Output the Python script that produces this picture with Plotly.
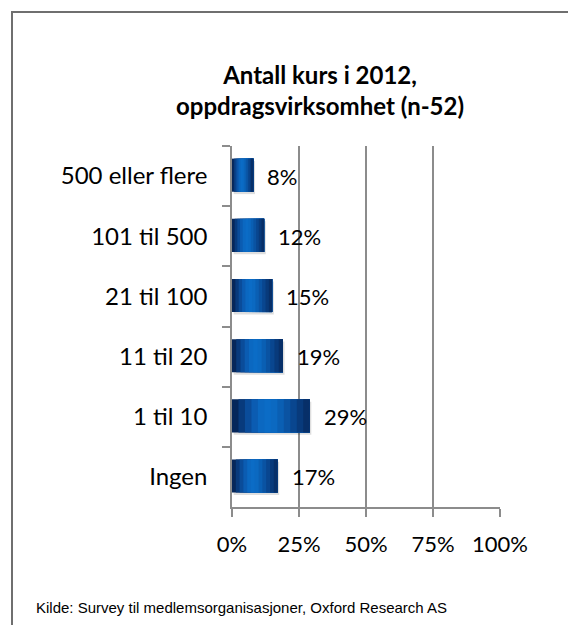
import plotly.graph_objects as go

categories = ["500 eller flere", "101 til 500", "21 til 100", "11 til 20", "1 til 10", "Ingen"]
values = [8, 12, 15, 19, 29, 17]
label_texts = ["8%", "12%", "15%", "19%", "29%", "17%"]
x_tickvals = [0, 25, 50, 75, 100]
x_ticktext = ["0%", "25%", "50%", "75%", "100%"]
title_lines = ["Antall kurs i 2012,", "oppdragsvirksomhet (n-52)"]
source_text = "Kilde: Survey til medlemsorganisasjoner, Oxford Research AS"

OFF = 8  # page body margin
W, H = 576 - OFF, 625 - OFF
L = 232 - OFF
R = W - (500 - OFF)
T = 146 - OFF
B = H - (507 - OFF)
PW, PH = W - L - R, H - T - B

def px(x):
    return (x - OFF - L) / PW

def py(y):
    return (H - B - (y - OFF)) / PH

# gradient shades along each bar (dark -> light -> dark)
shades = ["#06275a", "#083a7c", "#0a4c9a", "#0b5cb2", "#0b68c1", "#0b6cc6",
          "#0b69c1", "#0a5fb3", "#0a53a2", "#09468f", "#083a7b", "#072f68"]
n = len(shades)

fig = go.Figure()
# soft shadow
fig.add_trace(go.Bar(
    y=categories, x=values, orientation="h", base=[0.6] * len(values),
    marker=dict(color="rgba(0,0,0,0.13)", line=dict(width=0)), width=0.55,
    offset=-0.25, hoverinfo="skip", showlegend=False,
))
for i, c in enumerate(shades):
    fig.add_trace(go.Bar(
        y=categories, x=[v * (1 - i / n) for v in values],
        base=[v * i / n for v in values], orientation="h",
        marker=dict(color=c, line=dict(width=0)), width=0.55, offset=-0.29,
        hoverinfo="skip", showlegend=False,
    ))

for cat, v, t in zip(categories, values, label_texts):
    fig.add_annotation(x=v, y=cat, text=t, showarrow=False, xanchor="left",
                       xshift=12, yshift=0,
                       font=dict(family="Lato, Carlito, sans-serif", size=22, color="#000"))

fig.update_layout(
    width=W, height=H, barmode="overlay",
    margin=dict(l=L, r=R, t=T, b=B),
    paper_bgcolor="white", plot_bgcolor="white",
    font=dict(family="Lato, Carlito, sans-serif", size=22, color="#000"),
    xaxis=dict(range=[0, 100], tickvals=x_tickvals, ticktext=x_ticktext,
               showgrid=True, gridcolor="#8c8c8c", gridwidth=1.5,
               showline=True, linecolor="#8c8c8c", linewidth=1.5,
               ticks="outside", ticklen=8, tickcolor="#8c8c8c", tickwidth=1.5,
               ticklabelstandoff=9, zeroline=False, fixedrange=True,
               tickfont=dict(size=22)),
    yaxis=dict(autorange="reversed", showline=True, linecolor="#8c8c8c", linewidth=1.5,
               ticks="outside", ticklen=8, tickcolor="#8c8c8c", tickwidth=1.5,
               tickson="boundaries", ticklabelstandoff=18, showgrid=False,
               tickfont=dict(size=24)),
)

# chart border (only left and top edges fall inside the view)
fig.add_shape(type="rect", xref="paper", yref="paper",
              x0=px(12), x1=px(620), y0=py(680), y1=py(12),
              line=dict(color="#6f6f6f", width=2), layer="below")

fig.add_annotation(xref="paper", yref="paper", x=px(320), y=py(90),
                   text="<b>" + title_lines[0] + "<br>" + title_lines[1] + "</b>",
                   showarrow=False, xanchor="center", yanchor="middle",
                   font=dict(family="Lato, Carlito, sans-serif", size=24, color="#000"))

fig.add_annotation(xref="paper", yref="paper", x=px(34), y=py(607),
                   text=source_text, showarrow=False, xanchor="left", yanchor="middle",
                   font=dict(family="Liberation Sans Narrow, Arial Narrow, Liberation Sans, sans-serif",
                             size=15, color="#000"))

fig.write_html("out.html")
